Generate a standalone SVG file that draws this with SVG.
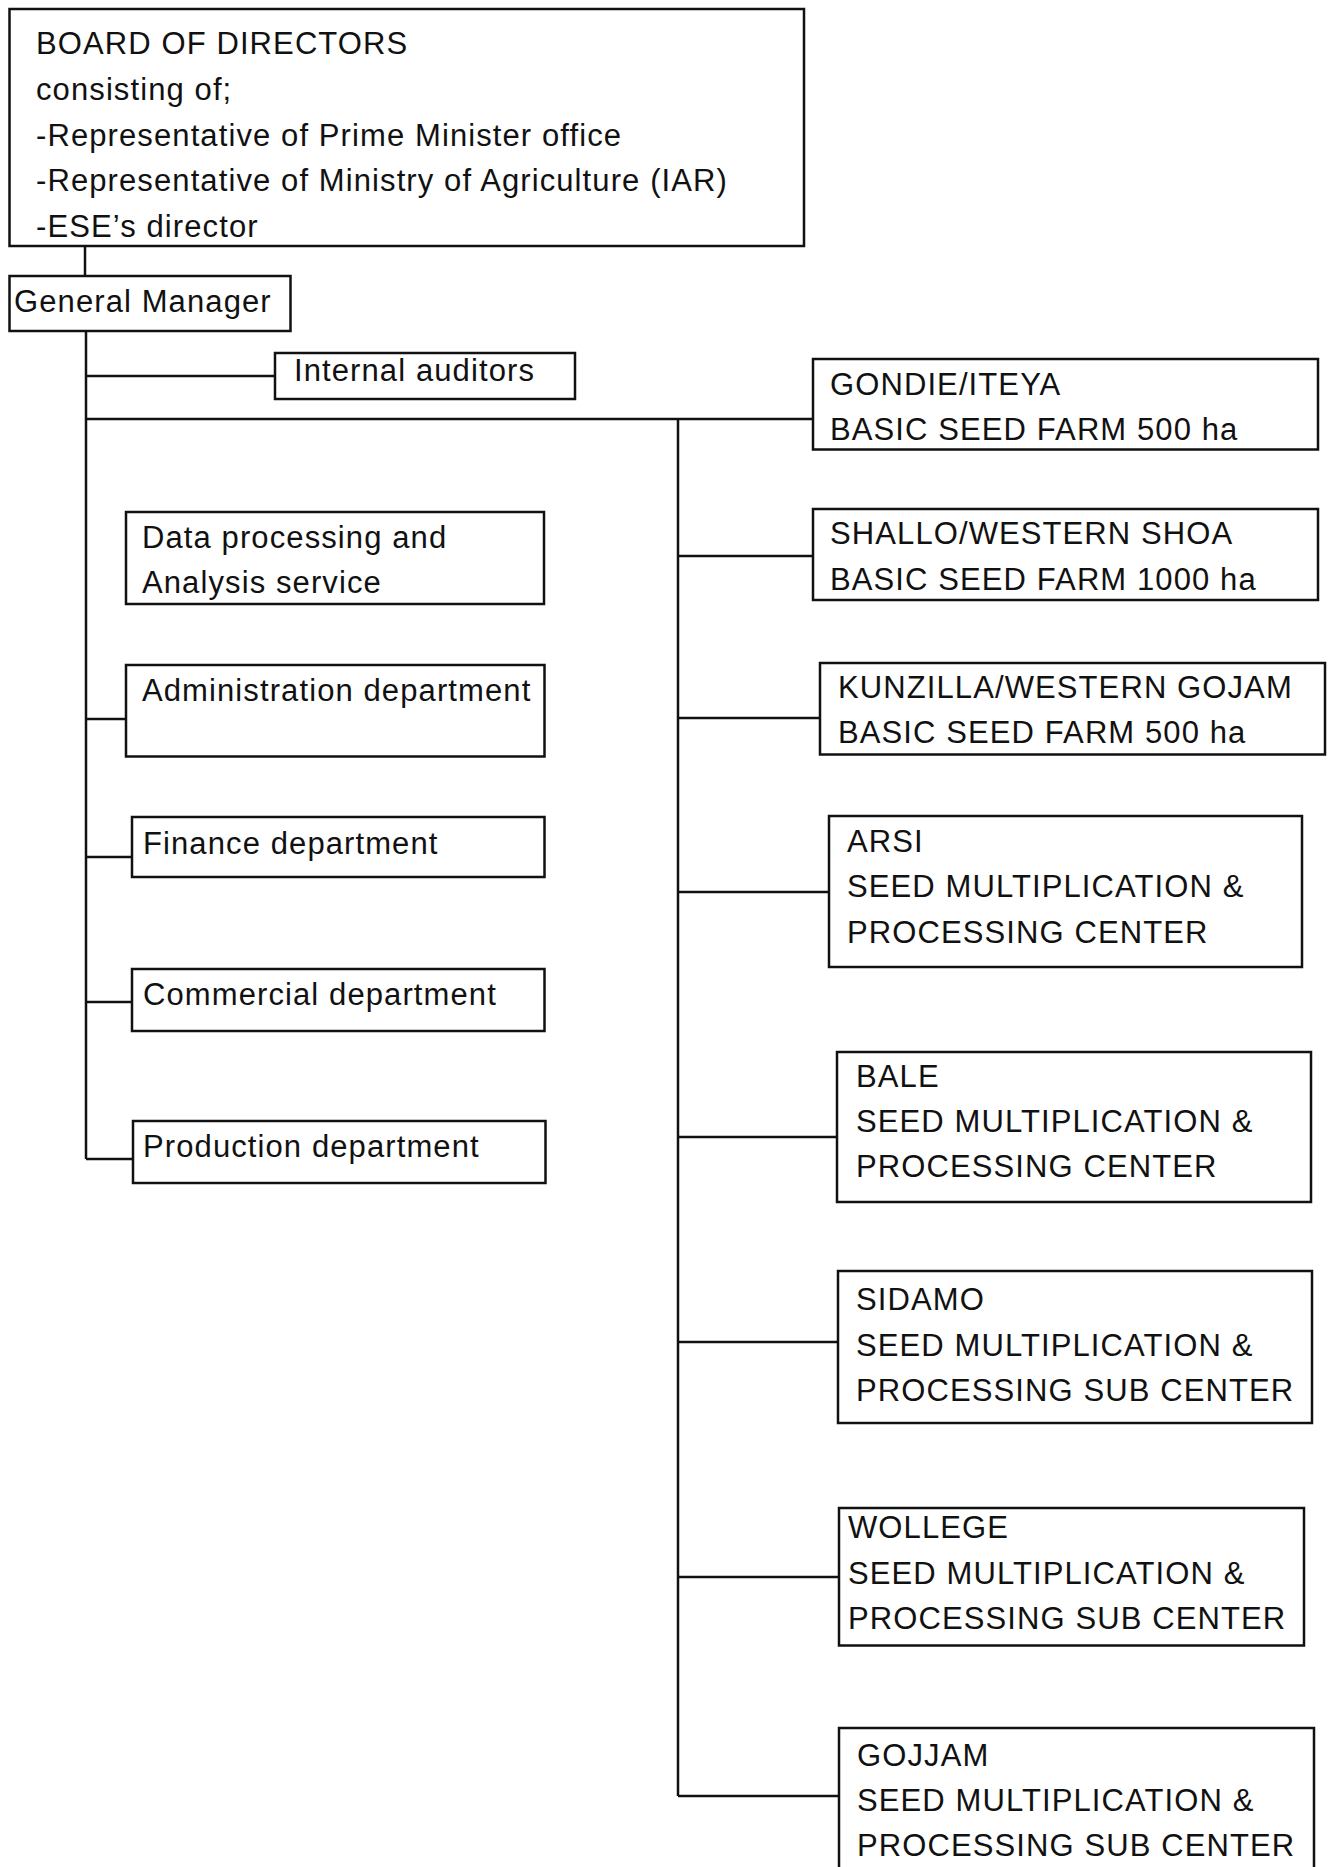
<svg xmlns="http://www.w3.org/2000/svg" width="1330" height="1867" viewBox="0 0 1330 1867">
<style>
rect.box{fill:#fff;stroke:#111;stroke-width:2.5}
text{font-family:"Liberation Sans",Arial,sans-serif;font-size:31px;letter-spacing:1.1px;fill:#111}
#connectors line{stroke:#111;stroke-width:2.5}
</style>
<rect width="1330" height="1867" fill="#fff"/>
<g id="connectors">
<line x1="85" y1="246" x2="85" y2="276"/>
<line x1="86" y1="331" x2="86" y2="1159"/>
<line x1="86" y1="376" x2="275" y2="376"/>
<line x1="86" y1="419" x2="813" y2="419"/>
<line x1="86" y1="719" x2="126" y2="719"/>
<line x1="86" y1="857" x2="132" y2="857"/>
<line x1="86" y1="1002" x2="132" y2="1002"/>
<line x1="86" y1="1159" x2="133" y2="1159"/>
<line x1="678" y1="419" x2="678" y2="1796"/>
<line x1="678" y1="556" x2="813" y2="556"/>
<line x1="678" y1="718" x2="820" y2="718"/>
<line x1="678" y1="892" x2="829" y2="892"/>
<line x1="678" y1="1137" x2="837" y2="1137"/>
<line x1="678" y1="1342" x2="838" y2="1342"/>
<line x1="678" y1="1577" x2="839" y2="1577"/>
<line x1="678" y1="1796" x2="839" y2="1796"/>
</g>
<g id="board">
<rect class="box" x="9.5" y="9" width="794.5" height="237"/>
<text x="36" y="54">BOARD OF DIRECTORS</text>
<text x="36" y="100">consisting of;</text>
<text x="36" y="145.5">-Representative of Prime Minister office</text>
<text x="36" y="191">-Representative of Ministry of Agriculture (IAR)</text>
<text x="36" y="236.5">-ESE’s director</text>
</g>
<g id="general-manager">
<rect class="box" x="9.5" y="276" width="281" height="55"/>
<text x="14" y="312">General Manager</text>
</g>
<g id="internal-auditors">
<rect class="box" x="275" y="353" width="300" height="46"/>
<text x="294" y="381">Internal auditors</text>
</g>
<g id="data-processing">
<rect class="box" x="126" y="512" width="418" height="92"/>
<text x="142" y="548">Data processing and</text>
<text x="142" y="593">Analysis service</text>
</g>
<g id="administration">
<rect class="box" x="126" y="665" width="418.5" height="91.5"/>
<text x="142" y="701">Administration department</text>
</g>
<g id="finance">
<rect class="box" x="132" y="817" width="412.5" height="60"/>
<text x="143" y="854">Finance department</text>
</g>
<g id="commercial">
<rect class="box" x="132" y="969" width="412.5" height="62"/>
<text x="143" y="1005">Commercial department</text>
</g>
<g id="production">
<rect class="box" x="133" y="1121" width="412.5" height="62"/>
<text x="143" y="1157">Production department</text>
</g>
<g id="gondie">
<rect class="box" x="813" y="359" width="505" height="90.5"/>
<text x="830" y="395">GONDIE/ITEYA</text>
<text x="830" y="440">BASIC SEED FARM 500 ha</text>
</g>
<g id="shallo">
<rect class="box" x="813" y="509" width="505" height="91"/>
<text x="830" y="544">SHALLO/WESTERN SHOA</text>
<text x="830" y="590">BASIC SEED FARM 1000 ha</text>
</g>
<g id="kunzilla">
<rect class="box" x="820" y="663" width="505" height="91.5"/>
<text x="838" y="698">KUNZILLA/WESTERN GOJAM</text>
<text x="838" y="743">BASIC SEED FARM 500 ha</text>
</g>
<g id="arsi">
<rect class="box" x="829" y="816" width="473" height="151"/>
<text x="847" y="852">ARSI</text>
<text x="847" y="897">SEED MULTIPLICATION &amp;</text>
<text x="847" y="943">PROCESSING CENTER</text>
</g>
<g id="bale">
<rect class="box" x="837" y="1052" width="474" height="150"/>
<text x="856" y="1087">BALE</text>
<text x="856" y="1132">SEED MULTIPLICATION &amp;</text>
<text x="856" y="1177">PROCESSING CENTER</text>
</g>
<g id="sidamo">
<rect class="box" x="838" y="1271" width="474" height="152"/>
<text x="856" y="1310">SIDAMO</text>
<text x="856" y="1355.5">SEED MULTIPLICATION &amp;</text>
<text x="856" y="1400.5">PROCESSING SUB CENTER</text>
</g>
<g id="wollege">
<rect class="box" x="839" y="1508" width="465" height="137.5"/>
<text x="848" y="1538">WOLLEGE</text>
<text x="848" y="1583.5">SEED MULTIPLICATION &amp;</text>
<text x="848" y="1628.5">PROCESSING SUB CENTER</text>
</g>
<g id="gojjam">
<rect class="box" x="839" y="1728" width="475" height="150"/>
<text x="857" y="1765.5">GOJJAM</text>
<text x="857" y="1811">SEED MULTIPLICATION &amp;</text>
<text x="857" y="1855.5">PROCESSING SUB CENTER</text>
</g>
</svg>
